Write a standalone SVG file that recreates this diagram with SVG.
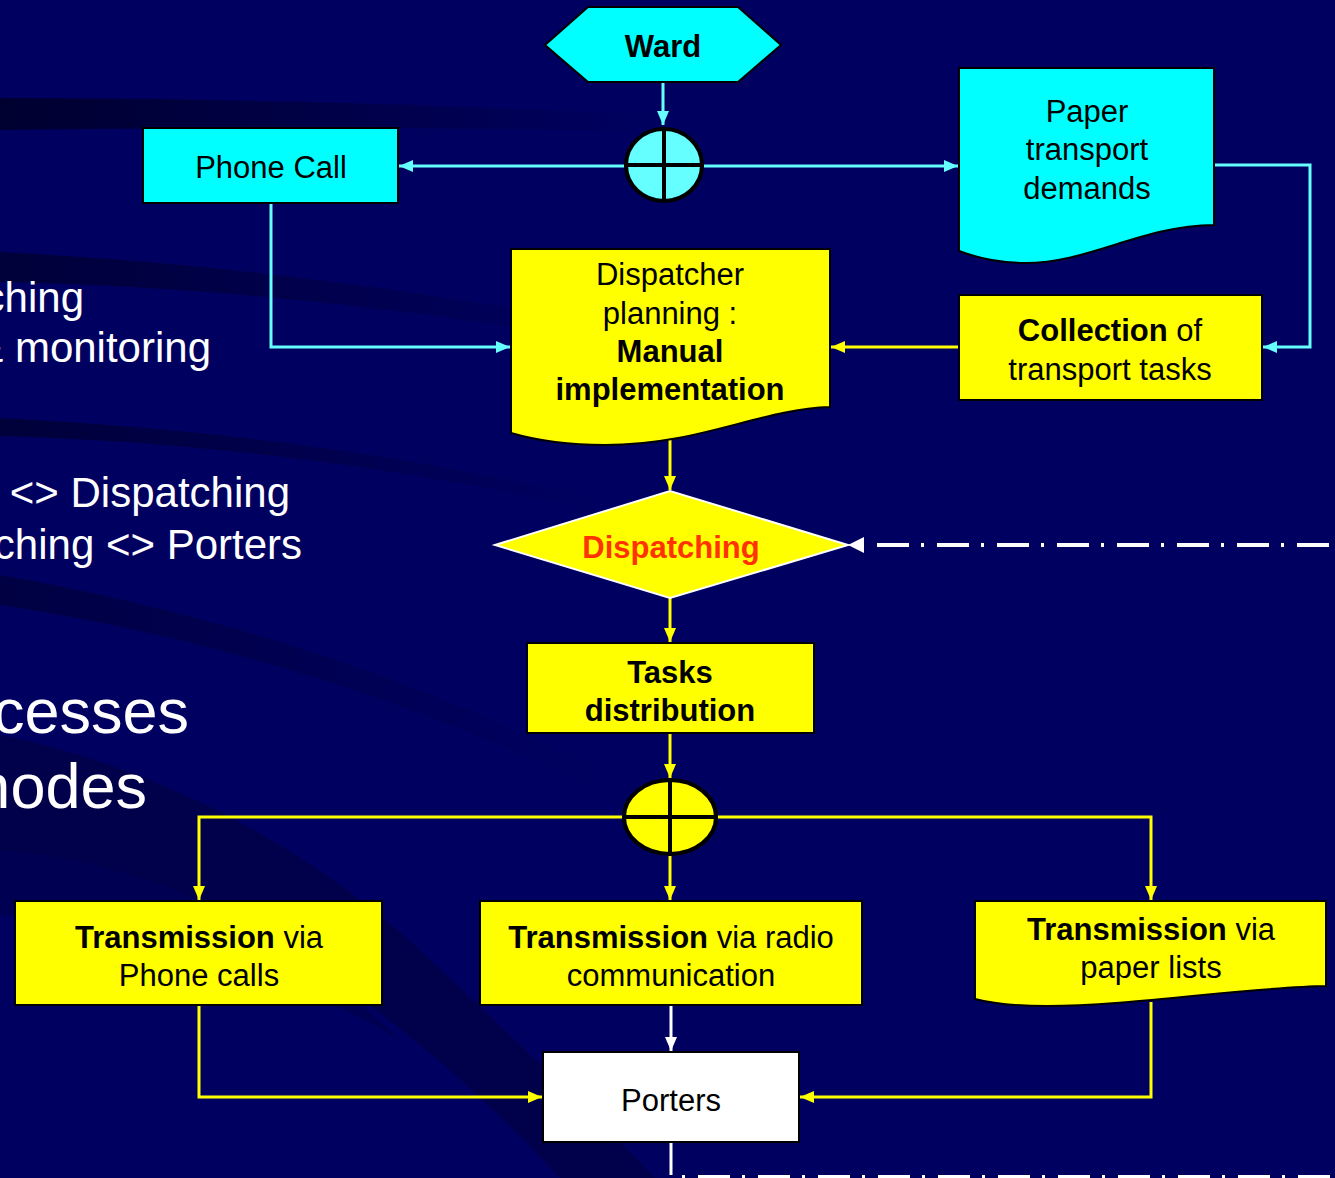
<svg xmlns="http://www.w3.org/2000/svg" width="1335" height="1178" viewBox="0 0 1335 1178">
<defs>
<style>
.t{font-family:"Liberation Sans",Arial,sans-serif;font-size:31px;fill:#000;text-anchor:middle}
.b{font-weight:bold}
.bg{font-family:"Liberation Sans",Arial,sans-serif;fill:#fff;text-anchor:end}
.box{stroke:#000;stroke-width:2}
.cy{fill:#00FFFF}
.ye{fill:#FFFF00}
.cc{fill:none;stroke:#66FFFF;stroke-width:3}
.yc{fill:none;stroke:#FFFF00;stroke-width:3}
.wc{fill:none;stroke:#FFFFFF;stroke-width:3}
.dd{fill:none;stroke:#FFFFFF;stroke-width:4;stroke-dasharray:32 12 3 13}
.sw{fill:#00003A}
</style>
<linearGradient id="fadeR" x1="0" y1="0" x2="1" y2="0">
<stop offset="0" stop-color="#000030" stop-opacity="1"/>
<stop offset="1" stop-color="#000030" stop-opacity="0"/>
</linearGradient>
<marker id="ac" viewBox="0 0 14 12" refX="14" refY="6" markerWidth="14" markerHeight="12" markerUnits="userSpaceOnUse" orient="auto"><path d="M0,0 L14,6 L0,12 z" fill="#66FFFF"/></marker>
<marker id="ay" viewBox="0 0 14 12" refX="14" refY="6" markerWidth="14" markerHeight="12" markerUnits="userSpaceOnUse" orient="auto"><path d="M0,0 L14,6 L0,12 z" fill="#FFFF00"/></marker>
<marker id="aw" viewBox="0 0 14 12" refX="14" refY="6" markerWidth="14" markerHeight="12" markerUnits="userSpaceOnUse" orient="auto"><path d="M0,0 L14,6 L0,12 z" fill="#FFFFFF"/></marker>
</defs>

<g id="background">
<rect x="0" y="0" width="1335" height="1178" fill="#000060"/>
<path d="M0,98 C200,98 450,104 660,116 L660,132 C450,126 200,128 0,130 Z" fill="url(#fadeR)"/>
<path d="M0,252 C200,262 420,288 640,332 L640,348 C420,308 200,286 0,282 Z" fill="url(#fadeR)" opacity="0.8"/>
<path d="M0,418 C200,428 400,452 600,500 L600,512 C400,466 200,442 0,436 Z" fill="url(#fadeR)" opacity="0.8"/>
<path d="M0,575 C200,610 400,670 600,770 L600,790 C400,695 200,635 0,605 Z" fill="url(#fadeR)" opacity="0.6"/>
<path d="M0,735 C150,765 300,840 420,950 C520,1045 600,1120 655,1178 L560,1178 C480,1090 350,975 210,905 C130,868 60,855 0,850 Z" class="sw" opacity="0.55"/>
<path d="M0,850 C60,855 130,868 210,905 C300,950 360,1000 400,1040 C300,980 150,930 0,915 Z" class="sw" opacity="0.35"/>
</g>

<g id="background-text">
<text class="bg" x="84" y="312" font-size="42">ching</text>
<text class="bg" x="211" y="362" font-size="42">&amp; monitoring</text>
<text class="bg" x="290" y="507" font-size="42">&lt;&gt; Dispatching</text>
<text class="bg" x="302" y="559" font-size="42">ching &lt;&gt; Porters</text>
<text class="bg" x="189" y="733" font-size="63">cesses</text>
<text class="bg" x="147" y="808" font-size="63">nodes</text>
</g>

<g id="connectors">
<path class="cc" d="M663,82 V125" marker-end="url(#ac)"/>
<path class="cc" d="M624,166 H399" marker-end="url(#ac)"/>
<path class="cc" d="M704,166 H958" marker-end="url(#ac)"/>
<path class="cc" d="M271,203 V347 H510" marker-end="url(#ac)"/>
<path class="cc" d="M1214,165 H1310 V347 H1263" marker-end="url(#ac)"/>
<path class="yc" d="M959,347 H831" marker-end="url(#ay)"/>
<path class="yc" d="M670,437 V490" marker-end="url(#ay)"/>
<path class="yc" d="M670,598 V642" marker-end="url(#ay)"/>
<path class="yc" d="M670,733 V778" marker-end="url(#ay)"/>
<path class="yc" d="M623,817 H199 V900" marker-end="url(#ay)"/>
<path class="yc" d="M670,856 V900" marker-end="url(#ay)"/>
<path class="yc" d="M717,817 H1151 V900" marker-end="url(#ay)"/>
<path class="yc" d="M199,1005 V1097 H542" marker-end="url(#ay)"/>
<path class="yc" d="M1151,1002 V1097 H800" marker-end="url(#ay)"/>
<path class="wc" d="M671,1005 V1051" marker-end="url(#aw)"/>
<path class="wc" d="M671,1142 V1175"/>
<path class="dd" d="M863,545 H1335" stroke-dashoffset="46"/>
<polygon points="848,545 864,537 864,553" fill="#FFFFFF"/>
<path class="dd" d="M682,1177 H1335" stroke-dashoffset="44"/>
</g>

<g id="ward">
<polygon class="box cy" points="545,45 588,7 738,7 781,45 738,82 588,82"/>
<text class="t b" x="663" y="57">Ward</text>
</g>

<g id="or-cyan">
<ellipse cx="664" cy="165" rx="38" ry="36" fill="#66FFFF" stroke="#000" stroke-width="4"/>
<path d="M664,129 V201 M626,165 H702" stroke="#000" stroke-width="4"/>
</g>

<g id="phone-call">
<rect class="box cy" x="143" y="128" width="255" height="75"/>
<text class="t" x="271" y="178">Phone Call</text>
</g>

<g id="paper-demands">
<path class="box cy" d="M959,68 H1214 V225 C1140,226 1090,263 1025,263 C995,263 975,257 959,251 Z"/>
<text class="t" x="1087" y="122">Paper</text>
<text class="t" x="1087" y="160">transport</text>
<text class="t" x="1087" y="199">demands</text>
</g>

<g id="dispatcher-planning">
<path class="box ye" d="M511,249 H830 V407 C760,409 700,445 605,445 C565,445 535,440 511,433 Z"/>
<text class="t" x="670" y="285">Dispatcher</text>
<text class="t" x="670" y="324">planning :</text>
<text class="t b" x="670" y="362">Manual</text>
<text class="t b" x="670" y="400">implementation</text>
</g>

<g id="collection">
<rect class="box ye" x="959" y="295" width="303" height="105"/>
<text class="t" x="1110" y="341"><tspan class="b">Collection</tspan> of</text>
<text class="t" x="1110" y="380">transport tasks</text>
</g>

<g id="dispatching">
<polygon class="ye" points="495,545 670,491 848,545 670,598" stroke="#FFFFFF" stroke-width="2"/>
<text class="t b" x="671" y="558" style="fill:#FF3300">Dispatching</text>
</g>

<g id="tasks-distribution">
<rect class="box ye" x="527" y="643" width="287" height="90"/>
<text class="t b" x="670" y="683">Tasks</text>
<text class="t b" x="670" y="721">distribution</text>
</g>

<g id="or-yellow">
<ellipse cx="670" cy="817" rx="46" ry="37" fill="#FFFF00" stroke="#000" stroke-width="4"/>
<path d="M670,780 V854 M624,817 H716" stroke="#000" stroke-width="4"/>
</g>

<g id="trans-phone">
<rect class="box ye" x="15" y="901" width="367" height="104"/>
<text class="t" x="199" y="948"><tspan class="b">Transmission</tspan> via</text>
<text class="t" x="199" y="986">Phone calls</text>
</g>

<g id="trans-radio">
<rect class="box ye" x="480" y="901" width="382" height="104"/>
<text class="t" x="671" y="948"><tspan class="b">Transmission</tspan> via radio</text>
<text class="t" x="671" y="986">communication</text>
</g>

<g id="trans-paper">
<path class="box ye" d="M975,901 H1326 V986 C1250,987 1130,1006 1047,1006 C1010,1006 990,1003 975,999 Z"/>
<text class="t" x="1151" y="940"><tspan class="b">Transmission</tspan> via</text>
<text class="t" x="1151" y="978">paper lists</text>
</g>

<g id="porters">
<rect x="543" y="1052" width="256" height="90" fill="#FFFFFF" stroke="#000" stroke-width="2"/>
<text class="t" x="671" y="1111">Porters</text>
</g>
</svg>
